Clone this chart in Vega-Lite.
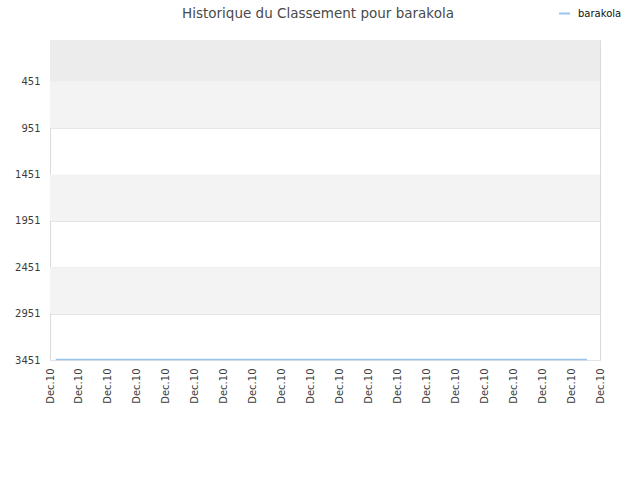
{
  "$schema": "https://vega.github.io/schema/vega-lite/v6.json",
  "description": "Historique du Classement pour barakola",
  "autosize": "none",
  "width": 550,
  "height": 320,
  "padding": {"left": 50, "top": 40, "right": 40, "bottom": 120},
  "background": "white",
  "title": {
    "text": "Historique du Classement pour barakola",
    "font": "DejaVu Sans",
    "fontSize": 13.5,
    "fontWeight": "normal",
    "color": "#4a4a4a",
    "anchor": "middle",
    "dx": -7,
    "offset": -13
  },
  "datasets": {
    "bands": [
      {"lo": 0, "hi": 451, "shade": "top"},
      {"lo": 451, "hi": 951, "shade": "odd"},
      {"lo": 1451, "hi": 1951, "shade": "odd"},
      {"lo": 2451, "hi": 2951, "shade": "odd"}
    ],
    "ranks": [
      {"idx": 0.2, "rank": 3445, "joueur": "barakola"},
      {"idx": 3, "rank": 3445, "joueur": "barakola"},
      {"idx": 6, "rank": 3445, "joueur": "barakola"},
      {"idx": 9, "rank": 3445, "joueur": "barakola"},
      {"idx": 12, "rank": 3445, "joueur": "barakola"},
      {"idx": 15, "rank": 3445, "joueur": "barakola"},
      {"idx": 18.55, "rank": 3445, "joueur": "barakola"}
    ]
  },
  "layer": [
    {
      "data": {"name": "bands"},
      "mark": {"type": "rect"},
      "encoding": {
        "y": {
          "field": "lo",
          "type": "quantitative",
          "scale": {"domain": [0, 3451], "reverse": true, "nice": false, "zero": false},
          "axis": {
            "title": null,
            "values": [451, 951, 1451, 1951, 2451, 2951, 3451],
            "format": "d",
            "domain": false,
            "ticks": false,
            "grid": true,
            "gridColor": "#e3e3e3",
            "labelFont": "DejaVu Sans",
            "labelFontSize": 10,
            "labelColor": "#3c3c3c",
            "labelPadding": 10
          }
        },
        "y2": {"field": "hi"},
        "fill": {
          "field": "shade",
          "type": "nominal",
          "scale": {"domain": ["top", "odd"], "range": ["#ececec", "#f3f3f3"]},
          "legend": null
        }
      }
    },
    {
      "data": {"name": "ranks"},
      "mark": {"type": "line", "strokeWidth": 1.5},
      "encoding": {
        "x": {
          "field": "idx",
          "type": "quantitative",
          "scale": {"domain": [0, 19], "nice": false, "zero": false},
          "axis": {
            "title": null,
            "values": [0, 1, 2, 3, 4, 5, 6, 7, 8, 9, 10, 11, 12, 13, 14, 15, 16, 17, 18, 19],
            "labelExpr": "'Dec.10'",
            "labelAngle": 270,
            "labelFont": "DejaVu Sans",
            "labelFontSize": 10,
            "labelColor": "#3c3c3c",
            "labelPadding": 8,
            "labelOverlap": false,
            "domain": false,
            "ticks": false,
            "grid": false
          }
        },
        "y": {"field": "rank", "type": "quantitative"},
        "color": {
          "field": "joueur",
          "type": "nominal",
          "scale": {"range": ["#99c4ee"]},
          "legend": {
            "title": null,
            "orient": "none",
            "legendX": 508,
            "legendY": -33,
            "symbolType": "stroke",
            "symbolSize": 121,
            "symbolStrokeWidth": 2,
            "labelFont": "DejaVu Sans",
            "labelFontSize": 10,
            "labelColor": "#111111",
            "labelOffset": 7,
            "padding": 0
          }
        }
      }
    }
  ],
  "config": {
    "view": {"stroke": "#dadada"}
  }
}
